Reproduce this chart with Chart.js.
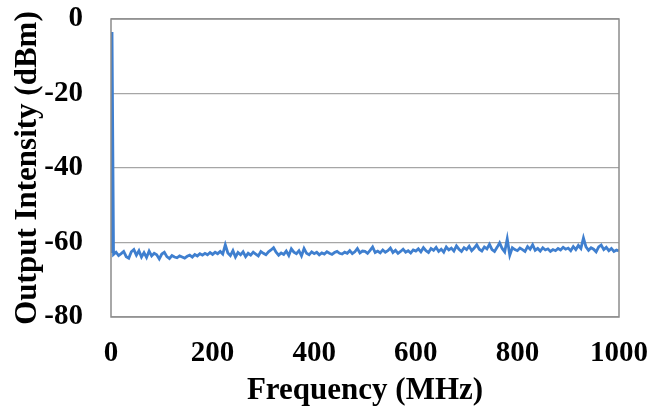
<!DOCTYPE html>
<html>
<head>
<meta charset="utf-8">
<script src="https://cdn.jsdelivr.net/npm/chart.js@4/dist/chart.umd.min.js"></script>
<style>
    html, body { margin: 0; padding: 0; background: #fff; }
    #wrap { width: 651px; height: 410px; }
</style>
</head>
<body>
<div id="wrap"><canvas id="spectrum"></canvas></div>
<script>
// Données (pas de 5 MHz)
const freqStep = 5;
const spikeFreq = 2;
const spikePower = -3.5;
const powerDbm = [
    -62.8, -63.2, -62.6, -63.5, -63.0, -62.4, -63.8, -64.2, -62.5, -61.9, -63.4, -62.2, -63.9, -62.7, -64.0, -62.3, -63.6, -62.9, -63.3, -64.4,
    -63.1, -62.6, -63.8, -64.3, -63.5, -63.9, -64.1, -63.6, -63.9, -64.2, -63.7, -63.4, -63.9, -63.2, -63.6, -63.0, -63.4, -62.9, -63.3, -62.7,
    -63.2, -62.6, -63.0, -62.4, -63.1, -60.6, -62.8, -63.5, -62.2, -63.9, -62.7, -63.3, -62.5, -63.8, -62.9, -63.4, -62.6, -63.1, -63.6, -62.4,
    -62.9, -63.3, -62.5, -62.0, -61.4, -62.6, -63.4, -62.8, -63.2, -62.3, -63.5, -61.7, -62.6, -63.0, -62.2, -63.6, -61.6, -62.9, -63.3, -62.5,
    -63.0, -62.6, -63.3, -62.8, -63.1, -62.5, -62.9, -63.2, -62.7, -62.4, -62.9, -63.1, -62.6, -62.9, -62.2, -63.0, -62.5, -61.6, -62.8, -62.3,
    -62.4, -62.9, -62.1, -61.2, -62.7, -62.3, -62.8, -62.0, -62.6, -62.2, -61.5, -62.7, -62.1, -62.9, -62.4, -61.8, -62.6, -62.2, -62.8, -62.0,
    -62.3, -61.7, -62.5, -61.4, -62.2, -62.7, -61.6, -62.1, -61.3, -62.4, -61.8, -62.6, -61.2, -62.0, -61.5, -62.3, -60.9, -61.8, -62.4, -61.4,
    -61.9, -61.0, -62.2, -61.5, -60.6, -61.8, -62.3, -61.2, -61.7, -60.5, -61.9, -62.4, -61.3, -60.1, -61.6, -62.5, -59.0, -63.4, -61.4, -61.9,
    -62.2, -61.5, -61.9, -62.4, -61.1, -61.8, -60.6, -62.1, -61.6, -62.3, -61.4, -62.0, -61.7, -62.4, -61.9, -62.2, -61.6, -62.0, -61.3, -61.8,
    -61.5, -62.2, -61.1, -61.9, -60.8, -61.6, -58.8, -61.2, -62.1, -61.4, -61.8, -62.5, -61.2, -60.7, -61.9, -61.3, -62.2, -61.6, -62.4, -62.0,
    -62.3
];
const xTicks = [0, 200, 400, 600, 800, 1000];
const yTicks = [-80, -60, -40, -20, 0];

const serifBold = { family: "'Liberation Serif', 'Times New Roman', serif", weight: 'bold' };

// Construire les points (le pic à gauche est inséré après le premier point)
const points = powerDbm.map((p, i) => ({ x: i * freqStep, y: p }));
points.splice(1, 0, { x: spikeFreq, y: spikePower });

// Cadre gris autour de la zone de tracé
const plotFrame = {
    id: 'plotFrame',
    afterDraw(chart) {
        const { ctx, chartArea: a } = chart;
        ctx.save();
        ctx.strokeStyle = '#8c8c8c';
        ctx.lineWidth = 1.5;
        ctx.strokeRect(a.left, a.top, a.right - a.left, a.bottom - a.top);
        ctx.restore();
    }
};

// Empêche les libellés de décaler la zone de tracé
function noLabelPadding(axis) {
    axis.paddingTop = 0;
    axis.paddingBottom = 0;
    axis.paddingLeft = 0;
    axis.paddingRight = 0;
}

new Chart(document.getElementById('spectrum'), {
    type: 'line',
    data: {
        datasets: [{
            data: points,
            borderColor: '#3f7fcf',
            borderWidth: 2.8,
            pointRadius: 0,
            tension: 0,
            fill: false
        }]
    },
    options: {
        responsive: true,
        maintainAspectRatio: false,
        animation: false,
        layout: { padding: { top: 19, right: 32, left: 0, bottom: 0 } },
        plugins: { legend: { display: false }, tooltip: { enabled: false } },
        scales: {
            x: {
                type: 'linear',
                min: 0,
                max: 1000,
                afterBuildTicks(axis) { axis.ticks = xTicks.map(v => ({ value: v })); },
                afterFit(axis) { axis.height = 93; noLabelPadding(axis); },
                grid: { display: false, drawTicks: false },
                border: { display: false },
                ticks: {
                    padding: 19,
                    color: '#000',
                    font: { ...serifBold, size: 29 },
                    maxRotation: 0,
                    callback: v => String(v)
                },
                title: {
                    display: true,
                    text: 'Frequency (MHz)',
                    color: '#000',
                    font: { ...serifBold, size: 31 },
                    padding: { top: 0, bottom: 0 }
                }
            },
            y: {
                min: -80,
                max: 0,
                afterBuildTicks(axis) { axis.ticks = yTicks.map(v => ({ value: v })); },
                afterFit(axis) { axis.width = 111; noLabelPadding(axis); },
                grid: { color: '#a6a6a6', lineWidth: 1.2, drawTicks: false },
                border: { display: false },
                ticks: { padding: 28, color: '#000', font: { ...serifBold, size: 29 } },
                title: {
                    display: true,
                    text: 'Output Intensity (dBm)',
                    color: '#000',
                    font: { ...serifBold, size: 31 },
                    padding: { top: 9, bottom: 0 }
                }
            }
        }
    },
    plugins: [plotFrame]
});
</script>
</body>
</html>
